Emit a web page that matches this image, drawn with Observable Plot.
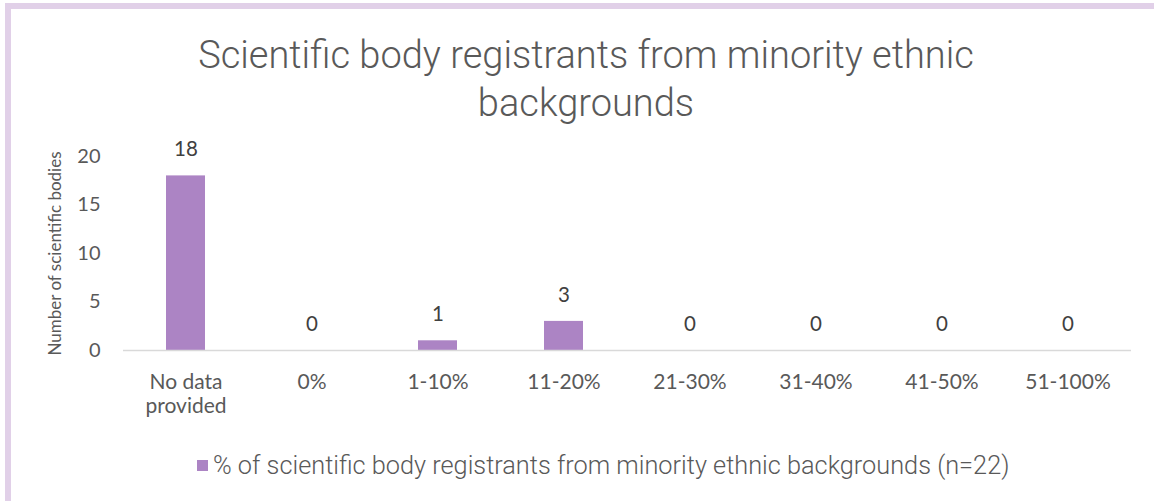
<!DOCTYPE html>
<html>
<head>
<meta charset="utf-8">
<script src="https://cdn.jsdelivr.net/npm/d3@7"></script>
<script src="https://cdn.jsdelivr.net/npm/@observablehq/plot@0.6"></script>
<style>
  html, body { margin: 0; padding: 0; background: #fff; }
  body { width: 1154px; height: 501px; position: relative; overflow: hidden; }
  #frame { position: absolute; left: 5px; top: 3px; width: 1149px; height: 498px;
    border-top: 6px solid #e1d0e8; border-left: 6px solid #e1d0e8; box-sizing: border-box; }
  #title { position: relative; padding-top: 31px; height: 96px; box-sizing: content-box;
    text-align: center; font-family: Roboto, sans-serif; font-weight: 300;
    font-size: 38px; line-height: 48px; color: #595959; }
  #title .inner { width: 820px; margin-left: 176px; }
  #chart { position: relative; height: 310px; }
  #chart svg { display: block; }
  #legend { position: relative; margin-top: 17px; height: 22px; display: flex; align-items: center;
    padding-left: 197px; font-family: Roboto, sans-serif; font-weight: 300; font-size: 25.3px; color: #595959; white-space: nowrap; }
  #legend .sw { width: 11px; height: 11px; margin-right: 5px; flex: none; }
  g[aria-label="y-axis label"] text { font-size: 17px; }
</style>
</head>
<body>
<div id="frame"></div>
<div id="title"><div class="inner">Scientific body registrants from minority ethnic backgrounds</div></div>
<div id="chart"></div>
<div id="legend"></div>
<script>
const categories = ["No data\nprovided", "0%", "1-10%", "11-20%", "21-30%", "31-40%", "41-50%", "51-100%"];
const values = [18, 0, 1, 3, 0, 0, 0, 0];
const yTicks = [0, 5, 10, 15, 20];
const seriesName = "% of scientific body registrants from minority ethnic backgrounds (n=22)";
const yLabel = "Number of scientific bodies";
const barColor = "#ac84c4";

const data = categories.map((c, i) => ({cat: c, value: values[i]}));

const chart = Plot.plot({
  width: 1154,
  height: 310,
  marginLeft: 123,
  marginRight: 23,
  marginTop: 29,
  marginBottom: 87,
  style: {fontFamily: "Lato, sans-serif", fontSize: "20px", color: "#595959", background: "transparent"},
  x: {domain: categories, paddingInner: 0.69, paddingOuter: 0.345},
  y: {domain: [0, 20]},
  marks: [
    Plot.axisX({label: null, tickSize: 0, tickPadding: 22, lineHeight: 1.12, fontSize: 21}),
    Plot.axisY({ticks: yTicks, label: yLabel, labelAnchor: "center", labelArrow: "none", labelOffset: 75, tickSize: 0, tickPadding: 23}),
    Plot.barY(data, {x: "cat", y: "value", fill: barColor}),
    Plot.ruleY([0], {stroke: "#d9d9d9", strokeWidth: 1.5}),
    Plot.text(data, {x: "cat", y: "value", text: d => String(d.value), dy: -26, fill: "#404040", fontSize: 20.5})
  ]
});
document.getElementById("chart").appendChild(chart);

const lg = document.getElementById("legend");
const sw = document.createElement("span");
sw.className = "sw";
sw.style.background = barColor;
lg.appendChild(sw);
const t = document.createElement("span");
t.textContent = seriesName;
lg.appendChild(t);
</script>
</body>
</html>
